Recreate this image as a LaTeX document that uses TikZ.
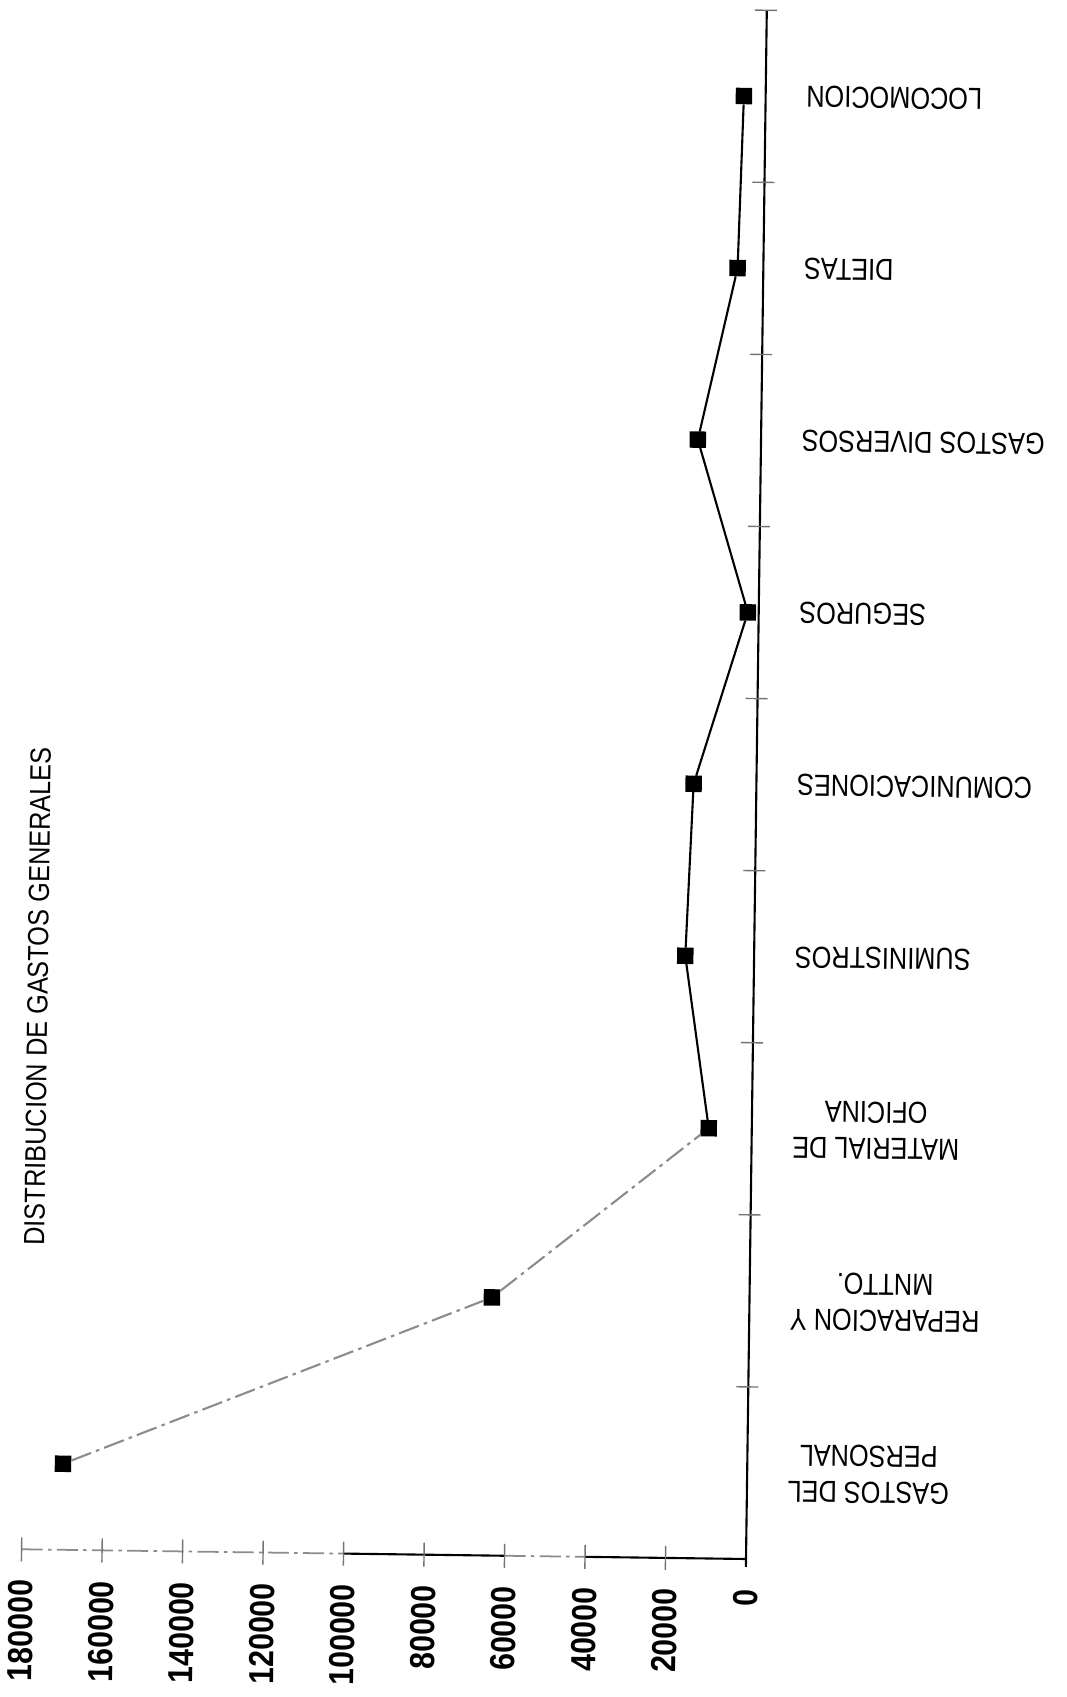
\documentclass[tikz,border=0pt]{standalone}
\usepackage{fontspec}
\setmainfont{Liberation Sans}
\tikzset{
  marca/.style={draw=black, fill=black, minimum size=0.15cm, inner sep=0pt},
  rotulo/.style={font=\fontsize{7.2}{8.6}\selectfont, rotate=180, yscale=1.2, anchor=east, align=center, inner sep=0pt},
  cifra/.style={font=\bfseries\fontsize{8.6}{10}\selectfont, rotate=90, yscale=1.15, anchor=east, inner sep=0pt},
  linea/.style={line width=0.6pt},
  tenue/.style={line width=0.5pt, black!45, dash pattern=on 6pt off 1.5pt on 1pt off 1.5pt},
  marquita/.style={line width=0.4pt, black!55}
}
\begin{document}
\begin{tikzpicture}[x=0.01cm,y=0.01cm]
  \useasboundingbox (0,0) rectangle (1066,1697);
  \begin{scope}[shift={(746,138)}, rotate=-0.77, transform shape]
    \coordinate (o) at (0,0);
    \coordinate (arriba) at (0,1549);
    \coordinate (izq) at (-724.5,0);
    \coordinate (x100) at (-402.5,0);
    \coordinate (x60) at (-241.5,0);
    \coordinate (x40) at (-161,0);
    % ejes
    \draw[linea] (0,-8) -- (arriba);
    \draw[tenue] (izq) -- (x100);
    \draw[linea] (x100) -- (x60);
    \draw[tenue] (x60) -- (x40);
    \draw[linea] (x40) -- (o);
    \foreach \i in {1,...,9}
      \draw[marquita] (-12,{\i*172.1}) -- (10,{\i*172.1});
    \foreach \k in {20,40,...,180}
      \draw[marquita] ({-\k*4.025},-12) -- ({-\k*4.025},12);
    % valores
    \foreach \k/\t in {0/0,20/20000,40/40000,60/60000,80/80000,100/100000,120/120000,140/140000,160/160000,180/180000}
      \node[cifra] (v\k) at ({-\k*4.025},-30) {\t};
    % categorias y puntos
    \foreach \i/\k/\t in {1/170/{GASTOS DEL\\PERSONAL},2/64/{REPARACION Y\\MNTTO.},3/10.7/{MATERIAL DE\\OFICINA},4/17.1/{SUMINISTROS},5/15.6/{COMUNICACIONES},6/2.7/{SEGUROS},7/15.7/{GASTOS DIVERSOS},8/6.4/{DIETAS},9/5.4/{LOCOMOCION}} {
      \node[marca] (p\i) at ({-\k*4.025},{(\i-0.5)*172.1}) {};
      \node[rotulo] (c\i) at (40,{(\i-0.5)*172.1}) {\t};
    }
    \draw[tenue, line width=0.6pt] (p1) -- (p2) -- (p3);
    \draw[linea] (p3) -- (p4) -- (p5) -- (p6) -- (p7) -- (p8) -- (p9);
    \node[font=\fontsize{7.2}{8.6}\selectfont, rotate=90, yscale=1.15, inner sep=0pt] (titulo) at (-716,553) {DISTRIBUCION DE GASTOS GENERALES};
  \end{scope}
\end{tikzpicture}
\end{document}
